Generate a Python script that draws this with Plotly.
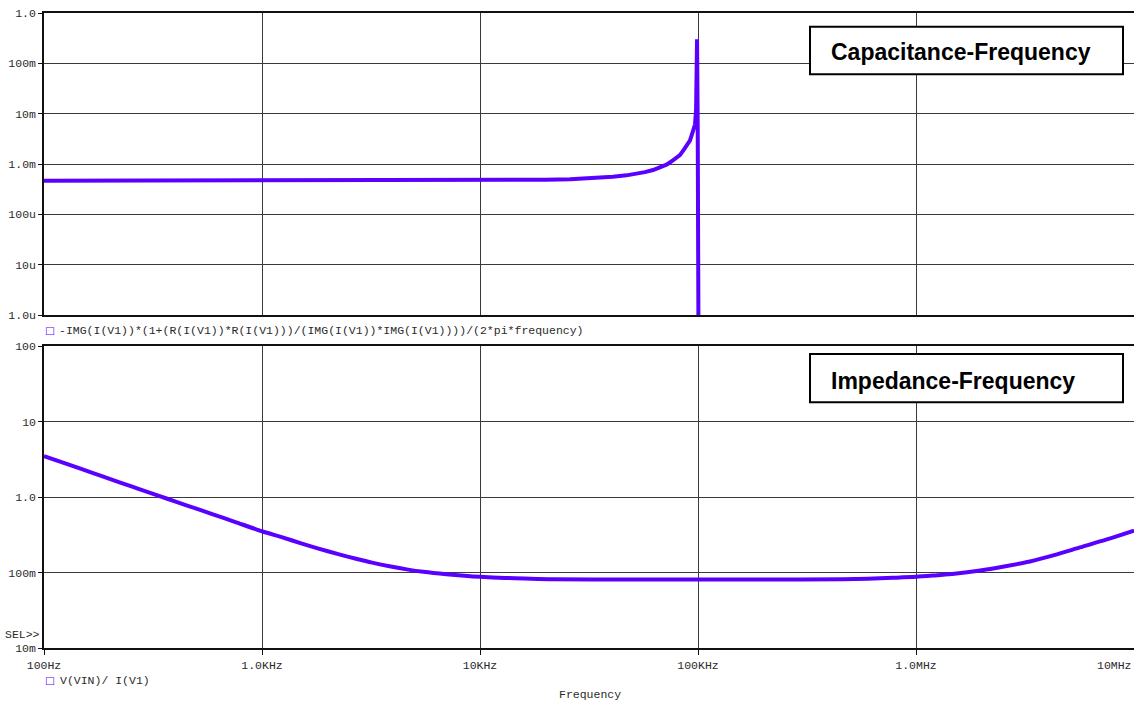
import plotly.graph_objects as go
from plotly.subplots import make_subplots

# ---- data ----
f_cap = [100, 1000, 10000, 14200, 20000, 25900, 33000, 40700, 47000, 52500, 57000, 62200,
         67000, 72100, 77000, 82600, 86000, 88000, 90000, 91800, 93500, 95000, 96000,
         96900, 98000, 99000, 99700, 100300, 101000]
cap = [4.66e-4, 4.66e-4, 4.70e-4, 4.76e-4, 4.87e-4, 5.0e-4, 5.2e-4, 5.58e-4, 5.95e-4, 6.4e-4,
       6.9e-4, 7.6e-4, 8.5e-4, 9.8e-4, 1.2e-3, 1.5e-3, 1.9e-3, 2.2e-3, 2.55e-3, 2.9e-3,
       3.7e-3, 4.6e-3, 5.4e-3, 6.1e-3, 1.2e-2, 3.0e-1, 5.0e-3, 1.0e-4, 1.0e-9]

f_imp = [100, 130, 168, 200, 250, 300, 365, 450, 600, 750, 1000, 1250, 1500, 1800, 2280,
         2700, 3200, 3900, 4610, 5500, 7000, 8500, 10000, 13000, 16000, 21600, 50000,
         100000, 200000, 463000, 600000, 783000, 1000000, 1250000, 1500000, 1970000,
         2500000, 3330000, 4300000, 5650000, 7500000, 10000000]
imp = [3.48, 2.68, 2.07, 1.74, 1.39, 1.16, 0.955, 0.777, 0.585, 0.469, 0.352, 0.290, 0.245,
       0.209, 0.1725, 0.152, 0.135, 0.120, 0.110, 0.102, 0.0946, 0.0903, 0.0877, 0.0848,
       0.0834, 0.0815, 0.0807, 0.0807, 0.0807, 0.0812, 0.0825, 0.085, 0.0877, 0.092,
       0.096, 0.106, 0.119, 0.140, 0.170, 0.215, 0.274, 0.359]

x_tickvals = [1e2, 1e3, 1e4, 1e5, 1e6, 1e7]
x_ticktext = ["100Hz", "1.0KHz", "10KHz", "100KHz", "1.0MHz", ""]
cap_tickvals = [1e-6, 1e-5, 1e-4, 1e-3, 1e-2, 1e-1, 1]
cap_ticktext = ["1.0u", "10u", "100u", "1.0m", "10m", "100m", "1.0"]
imp_tickvals = [1e-2, 1e-1, 1, 10, 100]
imp_ticktext = ["10m", "100m", "1.0", "10", "100"]

cap_label = "-IMG(I(V1))*(1+(R(I(V1))*R(I(V1)))/(IMG(I(V1))*IMG(I(V1))))/(2*pi*frequency)"
imp_label = "V(VIN)/ I(V1)"

TRACE = "#5a00ff"
GRID = "#3a3a3a"
MONO = "Liberation Mono, DejaVu Sans Mono, monospace"
TXT = "#2a2a2a"

W, H = 1134, 701
L, R, T, B = 44, 0, 13, 53
PW, PH = W - L - R, H - T - B


def px(x):
    return (x - L) / PW


def py(y):
    return (H - B - y) / PH


fig = make_subplots(rows=2, cols=1, shared_xaxes=False, vertical_spacing=0.0)

fig.add_trace(go.Scatter(x=f_cap, y=cap, mode="lines",
                         line=dict(color=TRACE, width=4), showlegend=False), row=1, col=1)
fig.add_trace(go.Scatter(x=f_imp, y=imp, mode="lines",
                         line=dict(color=TRACE, width=4, shape="spline", smoothing=0.8),
                         showlegend=False), row=2, col=1)

xcommon = dict(type="log", range=[2, 7], tickvals=x_tickvals, showgrid=True,
               gridcolor=GRID, gridwidth=1.3, showline=True, linecolor="#111",
               linewidth=1.5, mirror=True, zeroline=False, automargin=False,
               tickfont=dict(family=MONO, size=11.5, color=TXT))
fig.update_layout(
    xaxis=dict(xcommon, domain=[0, 1], anchor="y", showticklabels=False, ticks=""),
    xaxis2=dict(xcommon, domain=[0, 1], anchor="y2", ticktext=x_ticktext,
                ticks="outside", ticklen=5, tickcolor="#111"),
    yaxis=dict(type="log", range=[-6, 0], domain=[py(315), 1], tickvals=cap_tickvals,
               ticktext=cap_ticktext, showgrid=True, gridcolor=GRID, gridwidth=1.3,
               showline=True, linecolor="#111", linewidth=1.5, zeroline=False,
               ticks="outside", ticklen=4, tickcolor="#111", automargin=False,
               tickfont=dict(family=MONO, size=11.5, color=TXT)),
    yaxis2=dict(type="log", range=[-2, 2], domain=[0, py(346)], tickvals=imp_tickvals,
                ticktext=imp_ticktext, showgrid=True, gridcolor=GRID, gridwidth=1.3,
                showline=True, linecolor="#111", linewidth=1.5, zeroline=False,
                ticks="outside", ticklen=4, tickcolor="#111", automargin=False,
                tickfont=dict(family=MONO, size=11.5, color=TXT)),
    width=W, height=H,
    margin=dict(l=L, r=R, t=T, b=B, pad=0),
    paper_bgcolor="white", plot_bgcolor="white",
    showlegend=False,
)

anns = [
    dict(x=px(43), y=py(330), xanchor="left", yanchor="middle", text="□",
         font=dict(family="DejaVu Sans", size=10.5, color=TRACE)),
    dict(x=px(57), y=py(330), xanchor="left", yanchor="middle", text=cap_label,
         font=dict(family=MONO, size=11.5, color=TXT)),
    dict(x=px(43), y=py(680), xanchor="left", yanchor="middle", text="□",
         font=dict(family="DejaVu Sans", size=10.5, color=TRACE)),
    dict(x=px(58), y=py(680), xanchor="left", yanchor="middle", text=imp_label,
         font=dict(family=MONO, size=11.5, color=TXT)),
    dict(x=px(590), y=py(694), xanchor="center", yanchor="middle", text="Frequency",
         font=dict(family=MONO, size=11.5, color=TXT)),
    dict(x=px(42), y=py(634), xanchor="right", yanchor="middle", text="SEL&gt;&gt;",
         font=dict(family=MONO, size=11.5, color=TXT)),
    dict(x=1.0, y=py(665), xanchor="right", yanchor="middle", text="10MHz",
         font=dict(family=MONO, size=11.5, color=TXT)),
    dict(x=px(829), y=py(51.5), xanchor="left", yanchor="middle",
         text="<b>Capacitance-Frequency</b>",
         font=dict(family="Liberation Sans", size=23, color="black")),
    dict(x=px(829), y=py(381), xanchor="left", yanchor="middle",
         text="<b>Impedance-Frequency</b>",
         font=dict(family="Liberation Sans", size=23, color="black")),
]
for a in anns:
    a.update(xref="paper", yref="paper", showarrow=False)
fig.update_layout(annotations=anns)

fig.update_layout(shapes=[
    dict(type="rect", xref="paper", yref="paper", x0=px(810), x1=px(1123),
         y0=py(74.3), y1=py(26.7), line=dict(color="black", width=2), fillcolor="white"),
    dict(type="rect", xref="paper", yref="paper", x0=px(810), x1=px(1123),
         y0=py(402.3), y1=py(354), line=dict(color="black", width=2), fillcolor="white"),
])

fig.write_html("out.html", config={"displayModeBar": False},
               post_script="document.body.style.margin='0';document.body.style.padding='0';"
                           "document.body.style.overflow='hidden';")
